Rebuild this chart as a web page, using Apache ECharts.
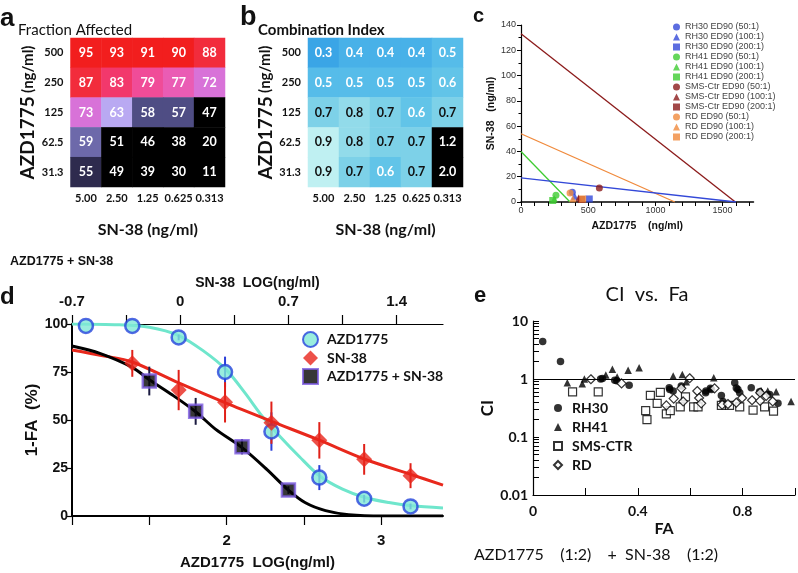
<!DOCTYPE html>
<html><head><meta charset="utf-8">
<script src="https://cdn.jsdelivr.net/npm/echarts@6/dist/echarts.min.js"></script>
<style>html,body{margin:0;padding:0;background:#fff}#c{width:798px;height:573px}</style>
</head><body><div id="c"></div>
<script>
// ---------------- Panel a / b : heatmaps ----------------
const snConc = ['5.00', '2.50', '1.25', '0.625', '0.313'];
const azdConc = ['500', '250', '125', '62.5', '31.3'];
const fractionAffected = [
  [95, 93, 91, 90, 88],
  [87, 83, 79, 77, 72],
  [73, 63, 58, 57, 47],
  [59, 51, 46, 38, 20],
  [55, 49, 39, 30, 11]
];
const combinationIndex = [
  [0.3, 0.4, 0.4, 0.4, 0.5],
  [0.5, 0.5, 0.5, 0.5, 0.6],
  [0.7, 0.8, 0.7, 0.6, 0.7],
  [0.9, 0.8, 0.7, 0.7, 1.2],
  [0.9, 0.7, 0.6, 0.7, 2.0]
];

// ---------------- Panel c : isobologram ----------------
const isoXLabels = [0, 500, 1000, 1500];
const isoXTicks = [0, 100, 200, 300, 400, 500, 600, 700, 800, 900, 1000, 1100, 1200, 1300, 1400, 1500, 1600, 1700];
const isoRH30 = [[0, 19], [1600, 0]];
const isoRH41 = [[0, 40], [365, 0]];
const isoSMS = [[0, 133], [1595, 0]];
const isoRD = [[0, 54], [1145, 0]];
const ratioLabels = ['(50:1)', '(100:1)', '(200:1)'];
const edRH30 = [[382, 7.7], [400, 4.5], [508, 2.4]];
const edRH41 = [[260, 5.3], [248, 2.5], [236, 1.2]];
const edSMS = [[583, 11], [429, 3.2], [450, 2.0]];
const edRD = [[365, 7.1], [385, 2.6], [459, 2.4]];

// ---------------- Panel d : dose response ----------------
const azdLog = [1.09, 1.39, 1.69, 1.99, 2.29, 2.60, 2.89, 3.19];
const azdResp = [99, 99, 93, 75, 44, 20, 9, 5];
const azdErr = [0, 0, 1.5, 8, 10, 6.5, 2, 1.5];
const snLog = [-0.31, -0.01, 0.29, 0.59, 0.90, 1.19, 1.49];
const snResp = [79.5, 65.6, 59.2, 48.6, 39.4, 29.5, 21];
const snErr = [7, 10.5, 10.5, 11, 9.5, 8, 6.5];
const comboLog = [1.50, 1.80, 2.10, 2.40];
const comboResp = [70.3, 54.5, 36.1, 13.5];
const comboErr = [7.5, 7, 4, 2];
const azdFit = [[1.0, 100], [1.3, 99.6], [1.5, 98.3], [1.69, 94], [1.85, 86], [2.0, 76], [2.12, 64], [2.23, 52], [2.35, 41], [2.47, 31], [2.6, 21], [2.75, 14], [2.9, 9.5], [3.05, 7], [3.2, 5.3], [3.4, 4.2]];
const snFit = [[-0.7, 86.5], [-0.5, 83.5], [-0.31, 80.2], [-0.01, 69.3], [0.29, 59], [0.59, 49.3], [0.9, 39.5], [1.19, 29.7], [1.49, 21.7], [1.7, 16.1]];
const comboFit = [[1.0, 88.5], [1.18, 84.7], [1.39, 77.4], [1.5, 71], [1.65, 63], [1.8, 54.3], [1.93, 45.1], [2.1, 35.6], [2.26, 24.3], [2.4, 13.5], [2.51, 6.9], [2.64, 2.8], [2.79, 0.7], [3.01, 0], [3.4, 0]];
const azdXTicks = [1, 1.5, 2, 2.5, 3];
const azdXLabels = [2, 3];
const snXTicks = [-0.7, -0.35, 0, 0.35, 0.7, 1.05, 1.4];
const snXLabels = [-0.7, 0, 0.7, 1.4];

// ---------------- Panel e : CI vs Fa ----------------
const ciRH30 = [[0.037, 4.45], [0.105, 2.0], [0.258, 1.0], [0.265, 1.02], [0.312, 0.95], [0.32, 0.93], [0.367, 0.78], [0.52, 0.71], [0.522, 0.66], [0.535, 0.62], [0.566, 0.76], [0.659, 0.58], [0.66, 0.62], [0.677, 0.69], [0.681, 0.66], [0.719, 0.52], [0.725, 0.41], [0.77, 0.86], [0.776, 0.7], [0.782, 0.66], [0.789, 0.58], [0.833, 0.71], [0.865, 0.6], [0.903, 0.54], [0.935, 0.38]];
const ciRH41 = [[0.131, 0.86], [0.188, 0.83], [0.196, 1.0], [0.278, 1.17], [0.303, 1.47], [0.321, 1.08], [0.363, 1.42], [0.405, 1.57], [0.535, 1.13], [0.57, 1.2], [0.585, 0.9], [0.69, 1.05], [0.871, 0.63], [0.896, 0.62], [0.928, 0.6], [0.985, 0.41]];
const ciSMS = [[0.151, 0.6], [0.249, 0.6], [0.43, 0.285], [0.435, 0.2], [0.448, 0.52], [0.474, 0.38], [0.486, 0.59], [0.509, 0.25], [0.524, 0.285], [0.562, 0.33], [0.582, 0.49], [0.613, 0.33], [0.63, 0.33], [0.719, 0.35], [0.75, 0.35], [0.789, 0.33], [0.84, 0.29], [0.884, 0.33], [0.918, 0.28]];
const ciRD = [[0.221, 0.99], [0.338, 0.84], [0.509, 0.35], [0.537, 0.46], [0.566, 0.69], [0.573, 0.41], [0.598, 1.03], [0.627, 0.62], [0.634, 0.47], [0.642, 0.38], [0.693, 0.69], [0.722, 0.36], [0.744, 0.37], [0.776, 0.39], [0.798, 0.47], [0.836, 0.43], [0.867, 0.58], [0.867, 0.42], [0.89, 0.51], [0.915, 0.41]];
const ciYLabels = [0.01, 0.1, 1, 10];
const ciYTicks = [0.01, 0.02, 0.03, 0.04, 0.05, 0.06, 0.07, 0.08, 0.09, 0.1, 0.2, 0.3, 0.4, 0.5, 0.6, 0.7, 0.8, 0.9, 1, 2, 3, 4, 5, 6, 7, 8, 9, 10];
const faXLabels = [0, 0.4, 0.8];

// ======================================================
const LATO = 'Lato';
const ARIAL = 'Liberation Sans';

function heatData(matrix) {
  const out = [];
  matrix.forEach((row, r) => row.forEach((v, c) => out.push([c, r, v])));
  return out;
}
function zip(xs, ys) { return xs.map((x, i) => [x, ys[i]]); }
function zip3(xs, ys, es) { return xs.map((x, i) => [x, ys[i], es[i]]); }

function errorBars(xAxisIndex, yAxisIndex, data, color) {
  return {
    type: 'custom', xAxisIndex, yAxisIndex, z: 3, silent: true,
    data,
    encode: { x: 0, y: 1 },
    renderItem: function (params, api) {
      const x = api.value(0), y = api.value(1), e = api.value(2);
      const lo = api.coord([x, y - e]);
      const hi = api.coord([x, y + e]);
      return { type: 'line', shape: { x1: lo[0], y1: lo[1], x2: hi[0], y2: hi[1] }, style: { stroke: color, lineWidth: 2 } };
    }
  };
}

function heatX(gridIndex) {
  return {
    type: 'category', gridIndex, data: snConc,
    axisLine: { show: false }, axisTick: { show: false },
    axisLabel: { interval: 0, fontFamily: LATO, fontWeight: 'bold', fontSize: 11, color: '#111', margin: 6 },
    name: 'SN-38 (ng/ml)', nameLocation: 'middle', nameGap: 35,
    nameTextStyle: { fontFamily: LATO, fontWeight: 'bold', fontSize: 16, color: '#111' }
  };
}
function heatY(gridIndex) {
  return {
    type: 'category', gridIndex, data: azdConc, inverse: true,
    axisLine: { show: false }, axisTick: { show: false },
    axisLabel: { interval: 0, fontFamily: LATO, fontWeight: 'bold', fontSize: 11, color: '#111', margin: 7 },
    name: '{a|AZD1775} {b|(ng/ml)}', nameLocation: 'middle', nameGap: 33,
    nameTextStyle: { rich: {
      a: { fontFamily: LATO, fontWeight: 'bold', fontSize: 19, color: '#111' },
      b: { fontFamily: LATO, fontWeight: 'bold', fontSize: 15, color: '#111' }
    } }
  };
}

const edColors = { RH30: '#3348d8', RH41: '#3fcc32', SMS: '#8b1a1a', RD: '#f08a3c' };
const edSymbols = ['circle', 'triangle', 'rect'];
const edGroups = [
  ['RH30 ED90 ', edRH30, edColors.RH30],
  ['RH41 ED90 ', edRH41, edColors.RH41],
  ['SMS-Ctr ED90 ', edSMS, edColors.SMS],
  ['RD ED90 ', edRD, edColors.RD]
];
const edSeries = [];
const edLegendNames = [];
edGroups.forEach(([prefix, pts, color]) => {
  pts.forEach((p, i) => {
    const name = prefix + ratioLabels[i];
    edLegendNames.push(name);
    edSeries.push({
      type: 'scatter', name, xAxisIndex: 2, yAxisIndex: 2, z: 5,
      symbol: edSymbols[i], symbolSize: 7, data: [p],
      itemStyle: { color }
    });
  });
});

function isoLine(data, color) {
  return { type: 'line', xAxisIndex: 2, yAxisIndex: 2, data, showSymbol: false, silent: true,
    lineStyle: { color, width: 1.3 }, z: 2 };
}

const option = {
  backgroundColor: '#ffffff',
  animation: false,
  grid: [
    { left: 70.5, top: 38, width: 154.5, height: 149 },
    { left: 308, top: 38, width: 155, height: 149 },
    { left: 521, top: 25, width: 232.5, height: 177 },
    { left: 72, top: 324, width: 371, height: 192 },
    { left: 533, top: 321, width: 262, height: 174 }
  ],
  xAxis: [
    heatX(0),
    heatX(1),
    {
      type: 'value', gridIndex: 2, min: 0, max: 1730,
      axisLine: { onZero: false, lineStyle: { color: '#000', width: 1.5 } },
      axisTick: { customValues: isoXTicks, length: 4, lineStyle: { color: '#000' } },
      axisLabel: { customValues: isoXLabels, formatter: v => String(v), fontFamily: ARIAL, fontSize: 9, color: '#333', margin: 4 },
      splitLine: { show: false },
      name: 'AZD1775    (ng/ml)', nameLocation: 'middle', nameGap: 19,
      nameTextStyle: { fontFamily: ARIAL, fontWeight: 'bold', fontSize: 10.5, color: '#111' }
    },
    {
      type: 'value', gridIndex: 3, min: 1, max: 3.4, position: 'bottom',
      axisLine: { onZero: false, lineStyle: { color: '#000', width: 2 } },
      axisTick: { customValues: azdXTicks, length: 9, lineStyle: { color: '#000', width: 1.2 } },
      axisLabel: { customValues: azdXLabels, fontFamily: ARIAL, fontWeight: 'bold', fontSize: 15, color: '#111', margin: 17 },
      splitLine: { show: false },
      name: 'AZD1775  LOG(ng/ml)', nameLocation: 'middle', nameGap: 39,
      nameTextStyle: { fontFamily: ARIAL, fontWeight: 'bold', fontSize: 15, color: '#111' }
    },
    {
      type: 'value', gridIndex: 3, min: -0.7, max: 1.7, position: 'top',
      axisLine: { onZero: false, lineStyle: { color: '#000', width: 1.2 } },
      axisTick: { customValues: snXTicks, length: 9, lineStyle: { color: '#000', width: 1.2 } },
      axisLabel: { customValues: snXLabels, fontFamily: ARIAL, fontWeight: 'bold', fontSize: 15, color: '#111', margin: 15 },
      splitLine: { show: false },
      name: 'SN-38  LOG(ng/ml)', nameLocation: 'middle', nameGap: 34,
      nameTextStyle: { fontFamily: ARIAL, fontWeight: 'bold', fontSize: 14, color: '#111' }
    },
    {
      type: 'value', gridIndex: 4, min: 0, max: 1, interval: 0.2,
      axisLine: { onZero: false, lineStyle: { color: '#000', width: 1.2 } },
      axisTick: { inside: true, length: 7, lineStyle: { color: '#000' } },
      axisLabel: { customValues: faXLabels, fontFamily: LATO, fontWeight: 'bold', fontSize: 14, color: '#111', margin: 9 },
      splitLine: { show: false },
      name: 'FA', nameLocation: 'middle', nameGap: 26,
      nameTextStyle: { fontFamily: LATO, fontWeight: 'bold', fontSize: 16, color: '#111' }
    }
  ],
  yAxis: [
    heatY(0),
    heatY(1),
    {
      type: 'value', gridIndex: 2, min: 0, max: 140, interval: 20,
      axisLine: { show: true, onZero: false, lineStyle: { color: '#000', width: 1.2 } },
      axisTick: { show: true, length: 4, lineStyle: { color: '#000' } },
      minorTick: { show: true, splitNumber: 2, length: 2.5, lineStyle: { color: '#000' } },
      axisLabel: { fontFamily: ARIAL, fontSize: 9, color: '#333', margin: 5 },
      splitLine: { show: false },
      name: 'SN-38   (ng/ml)', nameLocation: 'middle', nameGap: 22,
      nameTextStyle: { fontFamily: ARIAL, fontWeight: 'bold', fontSize: 10.5, color: '#111' }
    },
    {
      type: 'value', gridIndex: 3, min: 0, max: 100, interval: 25,
      axisLine: { show: true, onZero: false, lineStyle: { color: '#000', width: 2 } },
      axisTick: { show: true, length: 5, lineStyle: { color: '#000', width: 1.2 } },
      axisLabel: { fontFamily: ARIAL, fontWeight: 'bold', fontSize: 14, color: '#111', margin: 4 },
      splitLine: { show: false },
      name: '1-FA  (%)', nameLocation: 'middle', nameGap: 22,
      nameTextStyle: { fontFamily: ARIAL, fontWeight: 'bold', fontSize: 17, color: '#111' }
    },
    {
      type: 'log', logBase: 10, gridIndex: 4, min: 0.01, max: 10,
      axisLine: { show: true, onZero: false, lineStyle: { color: '#000', width: 1.2 } },
      axisTick: { show: true, inside: true, length: 6, customValues: ciYTicks, lineStyle: { color: '#000' } },
      axisLabel: { customValues: ciYLabels, fontFamily: LATO, fontWeight: 'bold', fontSize: 14, color: '#111', margin: 5,
        formatter: v => String(v) },
      splitLine: { show: false },
      name: 'CI', nameLocation: 'middle', nameGap: 32,
      nameTextStyle: { fontFamily: LATO, fontWeight: 'bold', fontSize: 17, color: '#111' }
    }
  ],
  visualMap: [
    { type: 'piecewise', show: false, seriesIndex: 0, dimension: 2, pieces: [
      { lt: 52, color: '#000000' },
      { gte: 52, lt: 56, color: '#2e2b4e' },
      { gte: 56, lt: 58.5, color: '#4f4d84' },
      { gte: 58.5, lt: 61, color: '#6d69aa' },
      { gte: 61, lt: 68, color: '#b9a9f2' },
      { gte: 68, lt: 75, color: '#d872d8' },
      { gte: 75, lt: 78, color: '#ea5cb4' },
      { gte: 78, lt: 81, color: '#f04c98' },
      { gte: 81, lt: 85, color: '#f2386c' },
      { gte: 85, lt: 88.5, color: '#f22c3c' },
      { gte: 88.5, color: '#f21e1e' }
    ] },
    { type: 'piecewise', show: false, seriesIndex: 1, dimension: 2, pieces: [
      { lt: 0.35, color: '#3aa5e6' },
      { gte: 0.35, lt: 0.45, color: '#48b1e8' },
      { gte: 0.45, lt: 0.55, color: '#56bce9' },
      { gte: 0.55, lt: 0.65, color: '#62c4e8' },
      { gte: 0.65, lt: 0.75, color: '#7dd1e8' },
      { gte: 0.75, lt: 0.85, color: '#92dbea' },
      { gte: 0.85, lt: 1.0, color: '#bff0f2' },
      { gte: 1.0, color: '#000000' }
    ] }
  ],
  legend: [
    {
      data: edLegendNames, orient: 'vertical', left: 673, top: 22, itemWidth: 7, itemHeight: 7, itemGap: 0,
      textStyle: { fontFamily: ARIAL, fontSize: 9, color: '#444', lineHeight: 10 }, padding: 0, selectedMode: false
    },
    {
      data: ['AZD1775', 'SN-38', 'AZD1775 + SN-38'], orient: 'vertical', left: 302, top: 331,
      itemWidth: 15, itemHeight: 15, itemGap: 2.5, padding: 0, selectedMode: false,
      textStyle: { fontFamily: LATO, fontWeight: 'bold', fontSize: 14, color: '#111', lineHeight: 15, padding: [0, 0, 0, 4] }
    },
    {
      data: ['RH30', 'RH41', 'SMS-CTR', 'RD'], orient: 'vertical', left: 553, top: 400,
      itemWidth: 8, itemHeight: 8, itemGap: 3, padding: 0, selectedMode: false,
      textStyle: { fontFamily: LATO, fontWeight: 'bold', fontSize: 14, color: '#111', lineHeight: 16, padding: [0, 0, 0, 5] }
    }
  ],
  graphic: [
    { type: 'text', x: 0, y: 19, style: { text: 'a', font: 'bold 26px "Liberation Sans"', fill: '#111', verticalAlign: 'middle' } },
    { type: 'text', x: 18, y: 30, style: { text: 'Fraction Affected', font: '15px Lato', fill: '#111', verticalAlign: 'middle' } },
    { type: 'text', x: 240, y: 18, style: { text: 'b', font: 'bold 27px "Liberation Sans"', fill: '#111', verticalAlign: 'middle' } },
    { type: 'text', x: 258, y: 30, style: { text: 'Combination Index', font: 'bold 15px Lato', fill: '#111', verticalAlign: 'middle' } },
    { type: 'text', x: 473, y: 16, style: { text: 'c', font: 'bold 20px "Liberation Sans"', fill: '#111', verticalAlign: 'middle' } },
    { type: 'text', x: 10, y: 262, style: { text: 'AZD1775 + SN-38', font: 'bold 12.5px "Liberation Sans"', fill: '#111', verticalAlign: 'middle' } },
    { type: 'text', x: 0, y: 297, style: { text: 'd', font: 'bold 24px "Liberation Sans"', fill: '#111', verticalAlign: 'middle' } },
    { type: 'text', x: 474, y: 296, style: { text: 'e', font: 'bold 22px "Liberation Sans"', fill: '#111', verticalAlign: 'middle' } },
    { type: 'text', x: 647, y: 295, style: { text: 'CI  vs.  Fa', font: '20px Lato', fill: '#111', align: 'center', verticalAlign: 'middle' } },
    { type: 'text', x: 474, y: 555, style: { text: 'AZD1775    (1:2)    +  SN-38    (1:2)', font: '16px Lato', fill: '#111', verticalAlign: 'middle' } }
  ],
  series: [
    {
      type: 'heatmap', xAxisIndex: 0, yAxisIndex: 0, data: heatData(fractionAffected),
      label: { show: true, color: '#fff', fontFamily: LATO, fontWeight: 'bold', fontSize: 12.5 },
      itemStyle: { borderWidth: 0 }
    },
    {
      type: 'heatmap', xAxisIndex: 1, yAxisIndex: 1, data: heatData(combinationIndex),
      label: {
        show: true,
        formatter: p => {
          const v = p.value[2];
          const t = v.toFixed(1);
          return (v < 0.65 || v >= 1) ? '{w|' + t + '}' : '{k|' + t + '}';
        },
        rich: {
          w: { color: '#fff', fontFamily: LATO, fontWeight: 'bold', fontSize: 12.5 },
          k: { color: '#111', fontFamily: LATO, fontWeight: 'bold', fontSize: 12.5 }
        }
      },
      itemStyle: { borderWidth: 0 }
    },
    isoLine(isoSMS, edColors.SMS),
    isoLine(isoRD, edColors.RD),
    isoLine(isoRH41, edColors.RH41),
    isoLine(isoRH30, edColors.RH30),
    ...edSeries,
    // panel d fits
    { type: 'line', xAxisIndex: 3, yAxisIndex: 3, data: azdFit, showSymbol: false, silent: true, smooth: 0.3,
      lineStyle: { color: '#6fe6cc', width: 3 }, z: 2 },
    { type: 'line', xAxisIndex: 4, yAxisIndex: 3, data: snFit, showSymbol: false, silent: true, smooth: 0.3,
      lineStyle: { color: '#e8281c', width: 3 }, z: 2 },
    { type: 'line', xAxisIndex: 3, yAxisIndex: 3, data: comboFit, showSymbol: false, silent: true, smooth: 0.3,
      lineStyle: { color: '#000', width: 3 }, z: 2 },
    errorBars(3, 3, zip3(azdLog, azdResp, azdErr), '#2b3fd8'),
    errorBars(4, 3, zip3(snLog, snResp, snErr), '#e02018'),
    errorBars(3, 3, zip3(comboLog, comboResp, comboErr), '#1a1a40'),
    { type: 'scatter', name: 'AZD1775', xAxisIndex: 3, yAxisIndex: 3, data: zip(azdLog, azdResp), symbol: 'circle', symbolSize: 14, z: 5,
      itemStyle: { color: '#7fe8d6', borderColor: '#2544dc', borderWidth: 2.5 } },
    { type: 'scatter', name: 'SN-38', xAxisIndex: 4, yAxisIndex: 3, data: zip(snLog, snResp), symbol: 'diamond', symbolSize: 16, z: 5,
      itemStyle: { color: '#e8261c' } },
    { type: 'scatter', name: 'AZD1775 + SN-38', xAxisIndex: 3, yAxisIndex: 3, data: zip(comboLog, comboResp), symbol: 'rect', symbolSize: 13, z: 5,
      itemStyle: { color: '#050505', borderColor: '#7a5ae0', borderWidth: 2.5 } },
    // panel e
    { type: 'scatter', name: 'RH30', xAxisIndex: 5, yAxisIndex: 4, data: ciRH30, symbol: 'circle', symbolSize: 7.5, z: 4,
      itemStyle: { color: '#000' },
      markLine: { silent: true, symbol: 'none', label: { show: false }, lineStyle: { color: '#000', width: 1, type: 'solid' }, data: [{ yAxis: 1 }] } },
    { type: 'scatter', name: 'RH41', xAxisIndex: 5, yAxisIndex: 4, data: ciRH41, symbol: 'triangle', symbolSize: 7.5, z: 4,
      itemStyle: { color: '#000' } },
    { type: 'scatter', name: 'SMS-CTR', xAxisIndex: 5, yAxisIndex: 4, data: ciSMS, symbol: 'rect', symbolSize: 8, z: 4,
      itemStyle: { color: '#fff', borderColor: '#000', borderWidth: 1.2 } },
    { type: 'scatter', name: 'RD', xAxisIndex: 5, yAxisIndex: 4, data: ciRD, symbol: 'diamond', symbolSize: 9, z: 4,
      itemStyle: { color: '#fff', borderColor: '#000', borderWidth: 1.2 } }
  ]
};

const chart = echarts.init(document.getElementById('c'), null, { renderer: 'canvas', width: 798, height: 573 });
chart.setOption(option);
</script>
</body></html>
